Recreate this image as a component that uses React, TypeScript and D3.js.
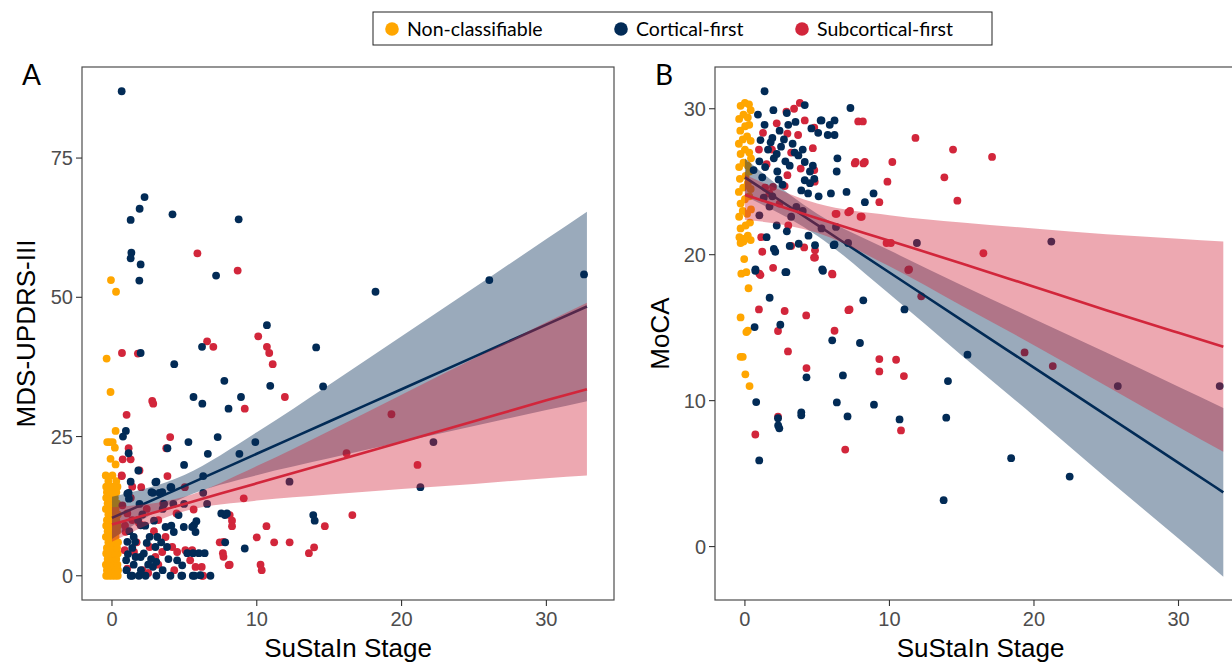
import React from 'react';
import * as d3 from 'd3';

const NAVY = '#022b56';
const RED = '#d2263b';
const ORANGE = '#ffa600';

const groups = ['Non-classifiable', 'Cortical-first', 'Subcortical-first'];
const groupColors = [ORANGE, NAVY, RED];

const xTicks = [0, 10, 20, 30];
const yTicksA = [0, 25, 50, 75];
const yTicksB = [0, 10, 20, 30];

// panel A : SuStaIn stage vs MDS-UPDRS-III
const ncA: number[][] = [
  [-0.4,0],[-0.2,0],[0,0],[0.2,0],[0.4,0],[-0.3,0.2],[0.3,0.2],
  [-0.35,1],[-0.05,1],[0.25,1],[0.42,1],[-0.42,2],[-0.12,2],[0.15,2],[0.38,2],
  [-0.3,3],[0,3],[0.3,3],[-0.4,4],[-0.1,4],[0.2,4],[0.4,4],
  [-0.35,5],[0.05,5],[0.35,5],[-0.25,6],[0.1,6],[0.42,6],[-0.42,7],[-0.1,7],[0.25,7],
  [-0.3,8],[0,8],[0.35,8],[-0.4,9],[-0.15,9],[0.2,9],[0.4,9],
  [-0.35,10],[0.05,10],[0.3,10],[-0.25,11],[0.1,11],[0.4,11],[-0.42,12],[-0.1,12],[0.25,12],
  [-0.3,13],[0,13],[0.35,13],[-0.4,14],[-0.1,14],[0.2,14],[-0.35,15],[0.05,15],[0.3,15],
  [-0.4,16],[-0.15,16],[0.1,16],[0.38,16],
  [-0.25,17],[0.3,17],[-0.43,18],[0.03,18],[0.25,20],[-0.1,21],[0.2,23],
  [-0.33,24],[-0.15,24],[0.05,24],[0.25,26],[-0.1,33],[-0.37,39],[0.28,51],[-0.07,53.1],
];
const cfA: number[][] = [
  [0.67,87],[2.25,68],[1.91,65.9],[1.29,63.9],[4.18,64.9],[8.75,64],[1.34,58],[1.29,57],[1.98,55.9],
  [7.19,53.9],[1.89,53],[18.2,51],[26.06,53.1],[32.6,54.1],[10.7,45],[6.22,41.1],[14.1,41],[1.98,40],
  [4.3,38],[7.76,35],[10.93,34.1],[14.58,34],[5.63,32.1],[8.91,32.1],[6.24,30.9],[8.05,30],[7.3,24.9],
  [22.2,24],[6.62,21.9],[8.8,21.9],[5.28,24],[4.98,19.9],[3.83,22.9],[0.96,26],[0.76,25],[1.15,22],
  [1.82,18.9],[1.29,16.9],[3.07,16.9],[4.1,15.9],[6.3,17.9],[12.26,16.9],[21.3,15.9],[13.9,10.9],[14,9.9],
  [9.17,4.9],[1.15,14.9],[2.82,14.9],[3.28,14.9],[6.3,14.9],[5.83,9.8],[5.67,9.1],[7.8,10.9],[7.82,6],
  [7.55,11.2],[7.94,11.2],[4.6,10.9],[4.24,12.9],[9.9,24],[6.57,12.9],[1.9,12.9],[3.6,12.9],[4.98,12.9],
  [3,16.8],[2.73,15],[3.47,15],[4.04,15.9],[1.06,14.75],[1.17,13.85],[1.98,9.06],[2.3,9],[3.7,8.76],
  [4.27,7.86],[4.96,8.76],[5.54,8.76],[5.77,7.86],[3.13,6.96],[3,5.17],[1.63,3.37],[1.98,3.37],[0.98,2.8],
  [1.06,6.1],[1.6,6.1],[1.4,0],[1.86,0],[2.32,0],[2.83,1.6],[3.06,2.5],[3.8,5.17],[4.5,2.78],[4.85,1.88],
  [5.2,4.05],[5.6,4.05],[6,4.05],[6.4,4.05],[4.04,0],[4.85,0],[5.58,0],[6.1,0.1],[6.8,0],[5.7,0],[4.79,0],
  [3.07,0],[1.29,0],[1.2,8],[1.5,7],[2,1],[2.5,2],[2.2,4],[2.6,7],[1.8,10],[2.1,11],[1.1,3.9],[3.4,6],
  [2.9,9.9],[3.5,12],[1.4,5],[2.7,3],[3.5,1],[1,1],[2.4,5.9],[1.5,2],[4.1,9],[3.9,3],
];
const scA: number[][] = [
  [5.9,57.9],[8.68,54.8],[10.1,43],[6.57,42.1],[7,41.1],[10.7,41.1],[10.86,40],[11.1,38],[0.69,40],
  [1.79,39.9],[11.94,32.1],[2.78,31.4],[19.3,29],[16.2,22],[21.1,19.9],[16.6,10.9],[14.7,8.9],[13.96,5.1],
  [13.6,4.05],[12.27,6],[11.2,6],[10.67,8.9],[10,6.9],[10.26,2],[10.34,1],[9.1,13.9],[9.17,30],[4.02,24.9],
  [3.75,22.9],[2.85,30.9],[1.01,28.9],[1.15,22.9],[1.29,20.9],[0.74,20.9],[0.68,17.9],[1.9,18.9],[2.02,15.9],
  [3.83,17.9],[5.03,15.9],[5.64,11.9],[7.44,6],[7.66,4.05],[8.13,10.9],[8.29,9.9],[8.29,8.9],[8.13,2],[6.3,0],
  [0.67,18],[0.72,12.65],[1.06,11.2],[1.4,10],[0.94,7.9],[2.2,9.06],[3.7,6.96],[2.6,5.17],[1.52,4.27],
  [0.88,4.6],[1.06,1.3],[2.1,1],[3,3.4],[3.47,4.27],[4.16,5.17],[4.5,4.27],[5.07,4.58],[5.54,4.58],
  [5.77,1.58],[6.2,1.58],[5.4,2.78],[7.7,6.07],[7.7,3.4],[8.06,1.9],[6.2,0],[4.46,11.2],[3.54,12.95],
  [1.86,9.5],[2.4,12],[3.2,10],[1.3,14],[2.9,8],[1.7,6],[3.2,2],[2.5,0.5],[0.9,9],[4.3,1],[1.4,16],
];

// panel B : SuStaIn stage vs MoCA
const ncB: number[][] = [
  [-0.38,21.2],[-0.1,20.9],[0.2,21.3],[0.4,21],[-0.3,21.8],[0.05,22],[0.35,22.2],
  [-0.4,22.6],[-0.15,23],[0.15,22.8],[0.42,23.1],[-0.3,23.5],[0,23.8],[0.3,24],
  [-0.42,24.3],[-0.12,24.6],[0.2,24.9],[0.4,24.5],[-0.35,25.2],[0.05,25.4],[0.32,25.7],
  [-0.4,26],[-0.1,26.3],[0.2,26.1],[0.42,26.6],[-0.3,26.9],[0,27.2],[0.3,27],
  [-0.42,27.6],[-0.15,27.9],[0.15,28.1],[0.4,27.8],[-0.32,28.5],[0.02,28.8],[0.3,28.9],
  [-0.4,29.3],[-0.1,29.6],[0.2,29.4],[0.4,29.9],[-0.3,30.2],[0,30.4],[0.28,30.3],
  [-0.3,20.8],[0,21.1],[-0.05,19.7],[-0.25,18.7],[0.1,18.8],[0.25,17.7],[-0.3,15.7],
  [0.1,14.7],[0.2,14.8],[-0.3,13],[-0.15,13],[0.03,11.8],[0.32,11],
];
const cfB: number[][] = [
  [1.36,31.2],[1.97,29.9],[4.14,30.25],[7.3,30.05],[0.9,29.6],[3.5,29.1],[1.36,28.9],[2.4,28.5],[4.6,28.65],
  [5.3,29.2],[5.87,28.9],[5.07,28.35],[5.24,29.2],[6.2,29.2],[5.73,28.2],[6.2,28.2],[1.08,27.85],[1.78,27.7],
  [2,26.6],[2.5,27.4],[3.44,27],[4,27.2],[4.14,26.35],[4.7,26.1],[6.4,26.6],[6.35,25.7],[1,26.4],[0.6,25.8],
  [1.4,26],[3.1,26.1],[4.5,25.7],[2.24,25.7],[2.33,25.15],[4.14,25.1],[4.5,24.9],[4.8,25.2],[4.37,24.2],
  [5.1,24],[7.03,24.3],[5.95,24.2],[8.9,24.2],[8.3,23.6],[3.56,23.27],[1.7,23.3],[1,22.7],[3.2,22.6],
  [5.3,21.8],[6.3,21.9],[7.14,20.8],[11.9,20.8],[21.2,20.9],[6.14,20.65],[1.5,21.2],[2,20.4],[2.1,20.2],
  [3.1,20.6],[3.72,20.75],[4.85,20.65],[6.2,20.7],[0.72,18.9],[0.73,19],[2.87,18.8],[5.4,18.9],[5.35,19],
  [1.71,17.05],[8.19,16.87],[11.04,16.25],[0.67,15.04],[2.45,15.2],[6.04,14.13],[7.96,13.95],[15.4,13.15],
  [4.26,11.6],[6.78,11.73],[14.05,11.34],[0.78,9.9],[6.36,9.88],[8.93,9.72],[2.29,8.8],[3.9,9.2],[3.9,9],
  [7.1,8.92],[10.7,8.71],[13.93,8.83],[2.38,8.1],[2.3,8.3],[0.99,5.9],[18.42,6.06],[22.47,4.8],[13.75,3.18],
  [25.8,11],[32.85,11],[2.8,18.8],[2.9,29.7],[3,28.9],[1.9,28],[2.7,27.9],[3.3,27.6],[1.6,27.2],[2.2,26.9],
  [2.8,26.4],[3.7,26.8],[1.2,25.3],[2.6,24.8],[3.9,24.4],[1.9,24],[2.2,22],[2.9,21.6],[4,23],[4.4,21.3],[1.3,23.9],
];
const scB: number[][] = [
  [3.8,30.4],[2.87,29.8],[1.25,28.35],[2.94,28.3],[3.68,28.2],[4.14,29.2],[4.8,28.7],[0.97,27.2],[1.87,27.2],
  [4.7,27.3],[7.66,26.35],[8.3,26.35],[3.86,25.9],[4.8,25.8],[2.94,25.45],[4.83,25],[1.94,24.65],[2.75,24.7],
  [1.4,24.6],[1.7,24.2],[6.34,22.8],[7.15,22.9],[8.08,22.6],[1.13,21.2],[3.2,20.6],[4.1,20.5],[4.85,20.3],
  [4.85,19.8],[1.2,20.2],[1,18.7],[1.95,19.1],[6.06,18.65],[1.08,18.6],[7.84,29.13],[8.16,29.13],[11.8,28],
  [14.4,27.2],[17.1,26.7],[7.6,26.25],[8.2,26.25],[10.2,26.35],[13.8,25.3],[9.86,25],[14.7,23.7],[9.3,23.6],
  [7.27,23],[8,22.6],[6.27,22.8],[9.8,20.8],[10.1,20.8],[4.78,19.8],[6.03,18.7],[11.3,18.95],[7.16,16.2],
  [16.5,20.1],[11.36,19],[12.2,17.15],[19.35,13.3],[21.3,12.37],[0.97,16.25],[2.75,16.14],[4.24,15.84],
  [7.24,16.25],[2.29,14.77],[6.2,14.79],[2.98,13.37],[9.3,12.85],[10.46,12.8],[9.3,12],[4.26,12.23],
  [11,11.68],[2.29,8.9],[0.72,7.68],[6.94,6.65],[10.8,7.96],[3.4,30],[2.2,29],[3.2,27],[1.5,26.2],[2.4,23.5],[3,22],
];

// linear fits with 95% bands, read at these stages
const fitXA = [0, 5, 10, 15, 20, 25, 30, 32.8];
const cfFitA = { mid: [10.4, 16.1, 21.9, 27.7, 33.5, 39.3, 45.1, 48.35], lo: [6.6, 14.1, 18.05, 21.1, 24, 26.9, 29.75, 31.35], hi: [14.2, 18.1, 25.75, 34.3, 43, 51.7, 60.45, 65.35] };
const scFitA = { mid: [9.2, 12.9, 16.6, 20.3, 24, 27.75, 31.5, 33.5], lo: [6.1, 11.6, 13.5, 14.6, 15.6, 16.5, 17.5, 18], hi: [12.3, 14.2, 19.7, 26, 32.5, 39, 45.5, 49] };
const fitXB = [0, 5, 10, 15, 20, 25, 30, 33.1];
const cfFitB = { mid: [25.3, 22.04, 18.78, 15.52, 12.26, 9, 5.74, 3.72], lo: [24.0, 21.3, 17.3, 13.1, 8.95, 4.7, 0.55, -2.07], hi: [26.6, 22.8, 20.3, 17.9, 15.6, 13.3, 10.95, 9.5] };
const scFitB = { mid: [24.1, 22.5, 20.95, 19.4, 17.8, 16.2, 14.65, 13.7], lo: [22.4, 21.5, 19.2, 16.5, 13.8, 11, 8.2, 6.5], hi: [25.5, 23.5, 22.7, 22.2, 21.8, 21.4, 21.1, 20.9] };

const TICK_FONT = "'Liberation Sans', Arial, sans-serif";
const LABEL_FONT = "Lato, 'Open Sans', sans-serif";

function Panel(props: any) {
  const { left, right, yDomain, yTicks, pts, fitX, fits, yTitle, titleX, letter, letterX } = props;
  const top = 67, bottom = 600;
  const x = d3.scaleLinear().domain([-2.07, 34.67]).range([left, right]);
  const y = d3.scaleLinear().domain(yDomain).range([bottom, top]);
  const area = d3.area<number>().x(i => x(fitX[i])).curve(d3.curveMonotoneX);
  const line = d3.line<number>().x(i => x(fitX[i])).curve(d3.curveMonotoneX);
  const idx = d3.range(fitX.length);
  const cx = (left + right) / 2;
  return (
    <g>
      {pts.map((s: any, g: number) => (
        <g key={g} fill={s.color}>
          {s.data.map((d: number[], i: number) => <circle key={i} cx={x(d[0])} cy={y(d[1])} r={3.9} />)}
        </g>
      ))}
      {fits.map((f: any, k: number) => (
        <g key={k}>
          <path d={area.y0(i => y(f.lo[i])).y1(i => y(f.hi[i]))(idx) || ''} fill={f.color} fillOpacity={0.4} />
          <path d={line.y(i => y(f.mid[i]))(idx) || ''} fill="none" stroke={f.color} strokeWidth={2.6} />
        </g>
      ))}
      <rect x={left} y={top} width={right - left} height={bottom - top} fill="none" stroke="#4d4d4d" strokeWidth={1.2} />
      {yTicks.map((t: number) => (
        <g key={t}>
          <line x1={left - 6} x2={left} y1={y(t)} y2={y(t)} stroke="#333" strokeWidth={1.1} />
          <text x={left - 9} y={y(t)} dy="0.36em" textAnchor="end" fontSize={20} fill="#4d4d4d" fontFamily={TICK_FONT}>{t}</text>
        </g>
      ))}
      {xTicks.map(t => (
        <g key={t}>
          <line x1={x(t)} x2={x(t)} y1={bottom} y2={bottom + 6} stroke="#333" strokeWidth={1.1} />
          <text x={x(t)} y={626} textAnchor="middle" fontSize={20} fill="#4d4d4d" fontFamily={TICK_FONT}>{t}</text>
        </g>
      ))}
      <text x={cx} y={657} textAnchor="middle" fontSize={26} fontFamily={TICK_FONT}>SuStaIn Stage</text>
      <text transform={`translate(${titleX},${(top + bottom) / 2}) rotate(-90)`} textAnchor="middle" fontSize={26} fontFamily={TICK_FONT}>{yTitle}</text>
      <text x={letterX} y={85} fontSize={28} fontFamily={LABEL_FONT}>{letter}</text>
    </g>
  );
}

export default function App() {
  const legendX = [392, 621, 802];
  const ptsA = [{ data: ncA, color: ORANGE }, { data: scA, color: RED }, { data: cfA, color: NAVY }];
  const ptsB = [{ data: ncB, color: ORANGE }, { data: scB, color: RED }, { data: cfB, color: NAVY }];
  return (
    <svg width={1232} height={663} style={{ position: 'absolute', left: 0, top: 0, background: '#fff' }}>
      <rect x={0} y={0} width={1232} height={663} fill="#fff" />
      <Panel left={82} right={614} yDomain={[-4.35, 91.35]} yTicks={yTicksA} pts={ptsA}
        fitX={fitXA} fits={[{ ...cfFitA, color: NAVY }, { ...scFitA, color: RED }]}
        yTitle="MDS-UPDRS-III" titleX={35} letter="A" letterX={22} />
      <Panel left={715} right={1246} yDomain={[-3.66, 32.86]} yTicks={yTicksB} pts={ptsB}
        fitX={fitXB} fits={[{ ...cfFitB, color: NAVY }, { ...scFitB, color: RED }]}
        yTitle="MoCA" titleX={669} letter="B" letterX={655} />
      <g>
        <rect x={373} y={12} width={619} height={33} fill="#fff" stroke="#222" strokeWidth={1} />
        {groups.map((g, i) => (
          <g key={g}>
            <circle cx={legendX[i]} cy={29} r={6.8} fill={groupColors[i]} />
            <text x={legendX[i] + 15} y={35.5} fontSize={19.5} fontFamily={LABEL_FONT}>{g}</text>
          </g>
        ))}
      </g>
    </svg>
  );
}
